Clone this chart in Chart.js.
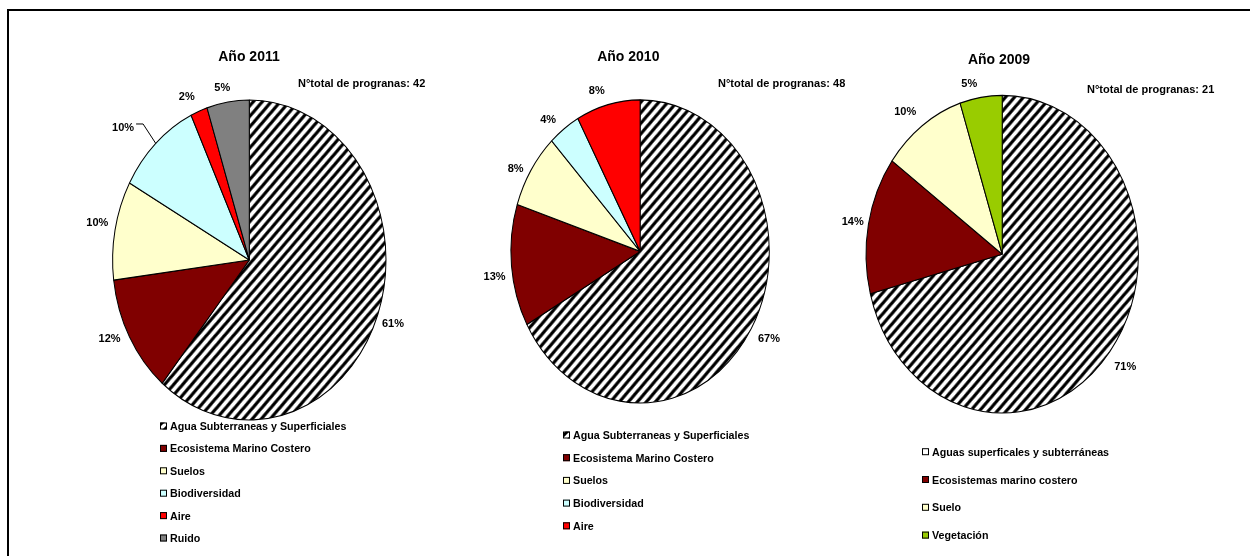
<!DOCTYPE html>
<html>
<head>
<meta charset="utf-8">
<script src="https://cdn.jsdelivr.net/npm/chart.js@4.4.1/dist/chart.umd.min.js"></script>
<style>
  html, body { margin: 0; padding: 0; background: #fff; }
  #page { position: relative; width: 1250px; height: 556px; overflow: hidden; }
  #frame { position: absolute; left: 7px; top: 9px; width: 1300px; height: 600px;
           border-left: 2px solid #000; border-top: 2px solid #000; }
  canvas { position: absolute; left: 0; top: 0; }
</style>
</head>
<body>
<div id="page">
  <div id="frame"></div>
  <canvas id="c2011" width="1250" height="556"></canvas>
  <canvas id="c2010" width="1250" height="556"></canvas>
  <canvas id="c2009" width="1250" height="556"></canvas>
</div>
<script>
// data (percent of programs per component)
const categories2011 = ["Agua Subterraneas y Superficiales", "Ecosistema Marino Costero", "Suelos", "Biodiversidad", "Aire", "Ruido"];
const values2011 = [61, 12, 10, 10, 2, 5];

const categories2010 = ["Agua Subterraneas y Superficiales", "Ecosistema Marino Costero", "Suelos", "Biodiversidad", "Aire"];
const values2010 = [67, 13, 8, 4, 8];

const categories2009 = ["Aguas superficales y subterráneas", "Ecosistemas marino costero", "Suelo", "Vegetación"];
const values2009 = [71, 14, 10, 5];

const titles = ["Año 2011", "Año 2010", "Año 2009"];
const totals = [42, 48, 21];

const W = 1250, H = 556;
const FONT = '"Liberation Sans", Arial, sans-serif';

// striped fill for the water slice
function hatch() {
  const s = 9;
  const c = document.createElement("canvas");
  c.width = s; c.height = s;
  const g = c.getContext("2d");
  g.fillStyle = "#fff";
  g.fillRect(0, 0, s, s);
  g.strokeStyle = "#000";
  g.lineWidth = 3.0;
  g.beginPath();
  g.moveTo(-3, 3); g.lineTo(3, -3);
  g.moveTo(-2, s + 2); g.lineTo(s + 2, -2);
  g.moveTo(s - 3, s + 3); g.lineTo(s + 3, s - 3);
  g.stroke();
  return g.createPattern(c, "repeat");
}
const stripes = hatch();
const colors2011 = [stripes, "#800000", "#FFFFCC", "#CCFFFF", "#FF0000", "#808080"];
const colors2010 = [stripes, "#800000", "#FFFFCC", "#CCFFFF", "#FF0000"];
const colors2009 = [stripes, "#800000", "#FFFFCC", "#99CC00"];

// pies are drawn as tall ovals, like the original
function ovalPie(cfg) {
  return {
    id: "ovalPie",
    beforeDatasetsDraw(chart) {
      const arc = chart.getDatasetMeta(0).data[0];
      const ctx = chart.ctx;
      ctx.save();
      ctx.translate(arc.x, arc.y);
      ctx.scale(1, cfg.ry / cfg.rx);
      ctx.translate(-arc.x, -arc.y);
    },
    afterDatasetsDraw(chart) {
      chart.ctx.restore();
    }
  };
}

function pieText(cfg) {
  return {
    id: "pieText",
    afterDraw(chart) {
      const ctx = chart.ctx;
      const meta = chart.getDatasetMeta(0);
      const k = cfg.ry / cfg.rx;
      ctx.save();
      ctx.fillStyle = "#000";

      ctx.font = "bold 14px " + FONT;
      ctx.textAlign = "center";
      ctx.fillText(cfg.title, cfg.titleAt[0], cfg.titleAt[1] + 5);

      ctx.font = "bold 11px " + FONT;
      ctx.textAlign = "left";
      ctx.fillText("N°total de progranas: " + cfg.total, cfg.totalAt[0], cfg.totalAt[1] + 4);

      // percentage labels outside each slice
      ctx.textAlign = "center";
      meta.data.forEach((arc, i) => {
        const mid = (arc.startAngle + arc.endAngle) / 2;
        const r = arc.outerRadius;
        const nd = cfg.nudge[i] || [0, 0];
        const lx = arc.x + (r + 17) * Math.cos(mid) + nd[0];
        const ly = arc.y + (r * k + 17) * Math.sin(mid) + nd[1];
        ctx.fillText(chart.data.datasets[0].data[i] + "%", lx, ly + 4);
        if (cfg.leader === i) {
          const ex = arc.x + r * Math.cos(mid);
          const ey = arc.y + r * k * Math.sin(mid);
          ctx.strokeStyle = "#000";
          ctx.lineWidth = 1;
          ctx.beginPath();
          ctx.moveTo(lx + 13, ly - 3);
          ctx.lineTo(lx + 20, ly - 3);
          ctx.lineTo(ex, ey);
          ctx.stroke();
        }
      });

      // vertical legend under the pie
      ctx.font = "bold 10.7px " + FONT;
      ctx.textAlign = "left";
      const bg = chart.data.datasets[0].backgroundColor;
      chart.data.labels.forEach((lab, i) => {
        const y = cfg.legend.y + i * cfg.legend.step;
        const x = cfg.legend.x;
        ctx.fillStyle = (cfg.legendFill && cfg.legendFill[i]) || bg[i];
        ctx.fillRect(x, y - 3.5, 7, 7);
        ctx.strokeStyle = "#000";
        ctx.lineWidth = 1;
        ctx.strokeRect(x + 0.5, y - 3, 6, 6);
        ctx.fillStyle = "#000";
        ctx.fillText(lab, x + 10, y + 4);
      });
      ctx.restore();
    }
  };
}

function drawPie(id, labels, values, colors, cfg) {
  const pad = {
    left: cfg.cx - cfg.rx - 0.5,
    right: W - cfg.cx - cfg.rx - 0.5,
    top: cfg.cy - cfg.rx - 0.5,
    bottom: H - cfg.cy - cfg.rx - 0.5
  };
  return new Chart(document.getElementById(id), {
    type: "pie",
    data: {
      labels: labels,
      datasets: [{
        data: values,
        backgroundColor: colors,
        borderColor: "#000",
        borderWidth: 1,
        hoverOffset: 0,
        offset: 0,
        clip: false
      }]
    },
    options: {
      responsive: false,
      animation: false,
      events: [],
      layout: { padding: pad },
      plugins: {
        legend: { display: false },
        tooltip: { enabled: false },
        title: { display: false }
      }
    },
    plugins: [ovalPie(cfg), pieText(cfg)]
  });
}

drawPie("c2011", categories2011, values2011, colors2011, {
  cx: 249.3, cy: 260, rx: 136.7, ry: 160,
  title: titles[0], titleAt: [249, 56],
  total: totals[0], totalAt: [298, 83.3],
  nudge: [[-1, 3], [-5, -7], [-1, -5], [-21, -4], [-6, 1], [-3, 2]],
  leader: 3,
  legend: { x: 160, y: 426, step: 22.4 }
});

drawPie("c2010", categories2010, values2010, colors2010, {
  cx: 640.1, cy: 251.4, rx: 129.2, ry: 151.6,
  title: titles[1], titleAt: [628.3, 56],
  total: totals[1], totalAt: [718, 83.3],
  nudge: [[3, 1], [0, 9], [-1, 7], [-6, 4], [-7, 2]],
  leader: -1,
  legend: { x: 563, y: 435, step: 22.7 }
});

drawPie("c2009", categories2009, values2009, colors2009, {
  cx: 1002.2, cy: 254.2, rx: 136.2, ry: 158.8,
  title: titles[2], titleAt: [999, 59.3],
  total: totals[2], totalAt: [1087, 89.3],
  nudge: [[2, 4], [1, 0], [-7, -1], [-9, 2]],
  leader: -1,
  legend: { x: 922, y: 451.7, step: 27.8 },
  legendFill: ["#FFFFFF"]
});
</script>
</body>
</html>
